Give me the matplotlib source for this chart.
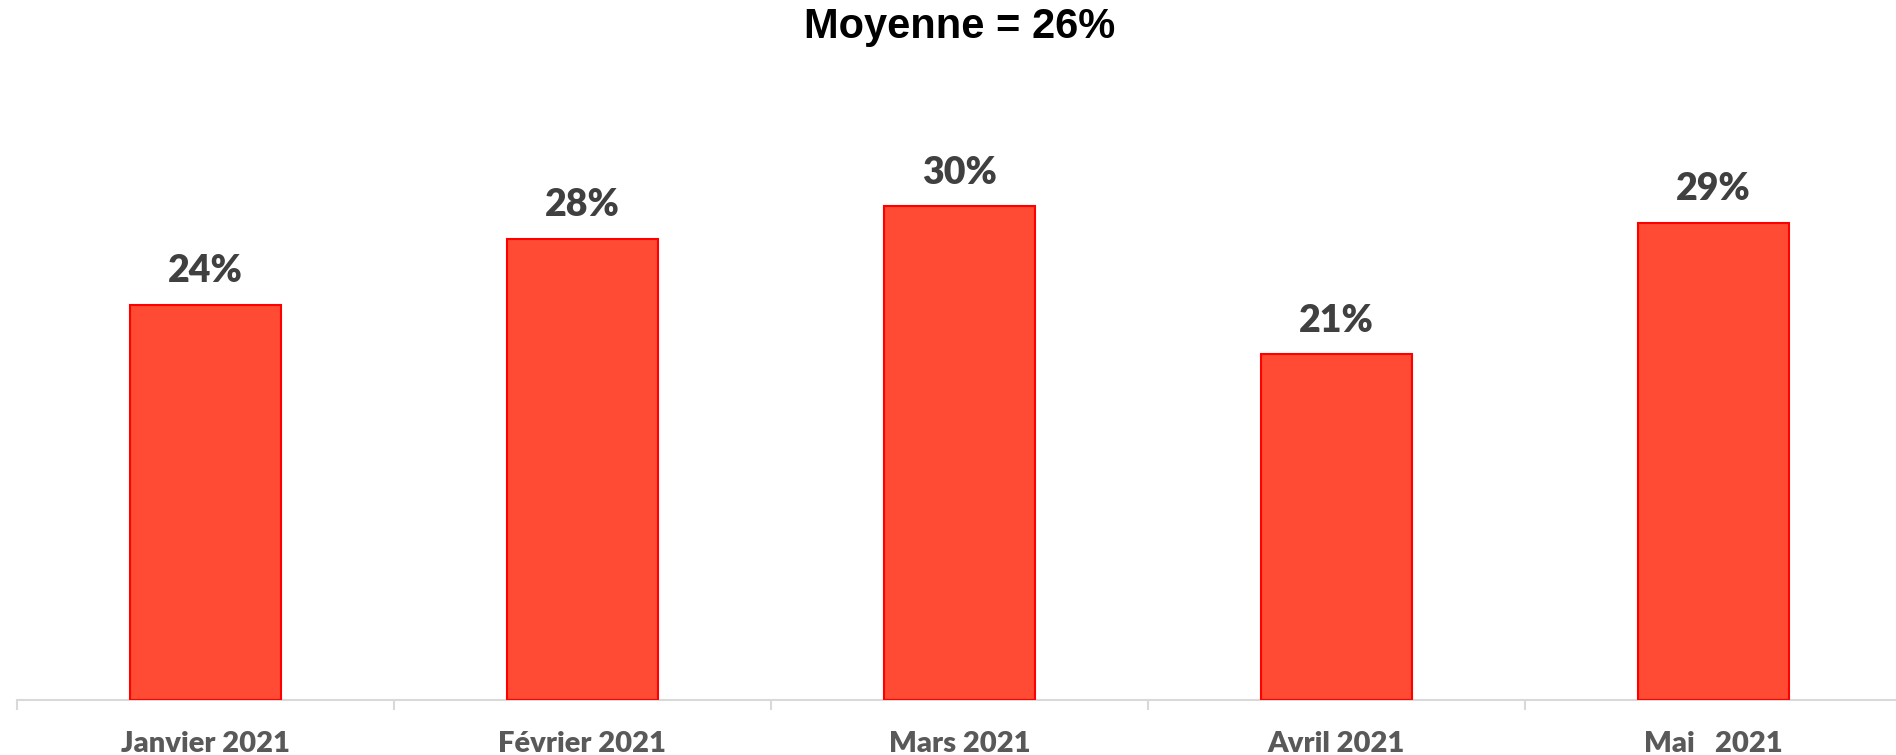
import matplotlib
matplotlib.use("Agg")
import matplotlib.pyplot as plt
from matplotlib.ticker import FixedLocator

# données
mois = ["Janvier 2021", "Février 2021", "Mars 2021", "Avril 2021", "Mai   2021"]
taux = [24, 28, 30, 21, 29]
titre = "Moyenne = 26%"

couleur_barre = "#FF4B33"
couleur_bord = "#FF0000"

fig = plt.figure(figsize=(18.96, 7.55), dpi=100)
ax = fig.add_axes([17 / 1896, 55 / 755, 1885 / 1896, 620 / 755])

x = range(len(mois))
barres = ax.bar(x, taux, width=0.40, color=couleur_barre, edgecolor=couleur_bord,
                linewidth=1.5, zorder=3)

# étiquettes au-dessus des barres
for b, v in zip(barres, taux):
    ax.annotate(f"{v}%", (b.get_x() + b.get_width() / 2, b.get_height()),
                xytext=(0, 12), textcoords="offset points", ha="center", va="bottom",
                fontsize=27, fontweight="heavy", color="#404040", family="Lato")

ax.set_xlim(-0.5, len(mois) - 0.5)
ax.set_ylim(0, 620 / 16.46)

ax.set_xticks(list(x))
ax.set_xticklabels(mois, fontsize=21, fontweight="heavy", color="#595959", family="Lato")
ax.tick_params(axis="x", which="major", length=0, pad=22)
ax.xaxis.set_minor_locator(FixedLocator([i - 0.5 for i in range(len(mois) + 1)]))
ax.tick_params(axis="x", which="minor", length=7, width=1.5, color="#D9D9D9")
ax.set_yticks([])

for s in ["top", "right", "left"]:
    ax.spines[s].set_visible(False)
ax.spines["bottom"].set_color("#D9D9D9")
ax.spines["bottom"].set_linewidth(1.5)

fig.text(960 / 1896, 1 - 27 / 755, titre, ha="center", va="center", fontsize=30,
         fontweight="bold", family="Liberation Sans", color="black")

fig.savefig("out.png", dpi=100)
